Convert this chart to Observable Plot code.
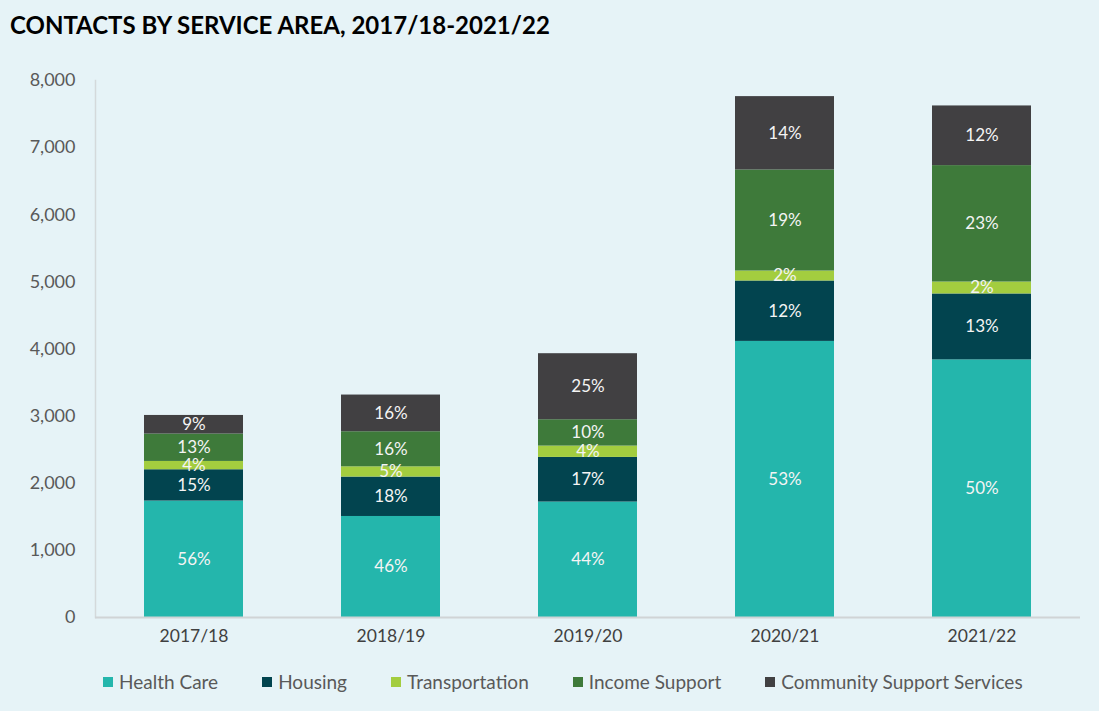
<!DOCTYPE html>
<html>
<head>
<meta charset="utf-8">
<script src="https://cdn.jsdelivr.net/npm/d3@7"></script>
<script src="https://cdn.jsdelivr.net/npm/@observablehq/plot@0.6"></script>
<style>
  html, body { margin: 0; padding: 0; background: #e6f3f7; width: 1099px; height: 711px; overflow: hidden; }
  #wrap { position: relative; width: 1099px; height: 711px; font-family: Lato, "Open Sans", sans-serif; }
  #title { position: absolute; left: 10px; top: 10px; font-size: 24px; font-weight: 700; color: #000; white-space: nowrap; }
  #chart { position: absolute; left: 0; top: 60px; }
  #legend { position: absolute; left: 103px; top: 670px; display: flex; gap: 44px; font-size: 19px; color: #595959; white-space: nowrap; }
  .item { display: flex; align-items: center; }
  .sw { width: 10px; height: 10px; margin-right: 6px; }
</style>
</head>
<body>
<div id="wrap">
  <div id="title">CONTACTS BY SERVICE AREA, 2017/18-2021/22</div>
  <div id="chart"></div>
  <div id="legend"></div>
</div>
<script>
const years = ["2017/18", "2018/19", "2019/20", "2020/21", "2021/22"];
const series = ["Health Care", "Housing", "Transportation", "Income Support", "Community Support Services"];
const colors = ["#24b6ac", "#02444f", "#a3cd3f", "#3e7a3a", "#414042"];

const healthCare = [1735, 1505, 1720, 4113, 3838];
const housing = [466, 587, 665, 900, 982];
const transportation = [124, 153, 169, 149, 178];
const incomeSupport = [408, 522, 392, 1505, 1734];
const communitySupport = [277, 547, 984, 1093, 889];

const healthCarePct = ["56%", "46%", "44%", "53%", "50%"];
const housingPct = ["15%", "18%", "17%", "12%", "13%"];
const transportationPct = ["4%", "5%", "4%", "2%", "2%"];
const incomeSupportPct = ["13%", "16%", "10%", "19%", "23%"];
const communitySupportPct = ["9%", "16%", "25%", "14%", "12%"];

const yTicks = [0, 1000, 2000, 3000, 4000, 5000, 6000, 7000, 8000];

const valueLists = [healthCare, housing, transportation, incomeSupport, communitySupport];
const pctLists = [healthCarePct, housingPct, transportationPct, incomeSupportPct, communitySupportPct];

const data = [];
years.forEach((yr, i) => {
  series.forEach((s, j) => {
    data.push({year: yr, series: s, value: valueLists[j][i], pct: pctLists[j][i]});
  });
});

const chart = Plot.plot({
  width: 1099,
  height: 600,
  marginTop: 20,
  marginBottom: 43,
  marginLeft: 95,
  marginRight: 19,
  style: {background: "transparent", fontFamily: "Lato, 'Open Sans', sans-serif"},
  x: {domain: years, paddingInner: 0.5, paddingOuter: 0.25, label: null},
  y: {domain: [0, 8000], ticks: yTicks, label: null},
  color: {domain: series, range: colors},
  marks: [
    Plot.axisY({ticks: yTicks, tickSize: 0, tickPadding: 20, tickFormat: d3.format(","), fontSize: 18, fill: "#595959", label: null}),
    Plot.axisX({tickSize: 0, tickPadding: 12, fontSize: 17.5, fill: "#404040", label: null}),
    Plot.frame({anchor: "left", stroke: "#d4d9db", strokeWidth: 1.5}),
    Plot.barY(data, {x: "year", y: "value", fill: "series", order: series}),
    Plot.ruleY([0], {stroke: "#d0d4d6", strokeWidth: 2}),
    Plot.text(data, Plot.stackY({x: "year", y: "value", z: "series", order: series, text: "pct", fill: "#f4f4f4", fontSize: 17}))
  ]
});
document.getElementById("chart").appendChild(chart);

const legend = document.getElementById("legend");
series.forEach((s, j) => {
  const item = document.createElement("div");
  item.className = "item";
  const sw = document.createElement("span");
  sw.className = "sw";
  sw.style.background = colors[j];
  const t = document.createElement("span");
  t.textContent = s;
  item.appendChild(sw);
  item.appendChild(t);
  legend.appendChild(item);
});
</script>
</body>
</html>
